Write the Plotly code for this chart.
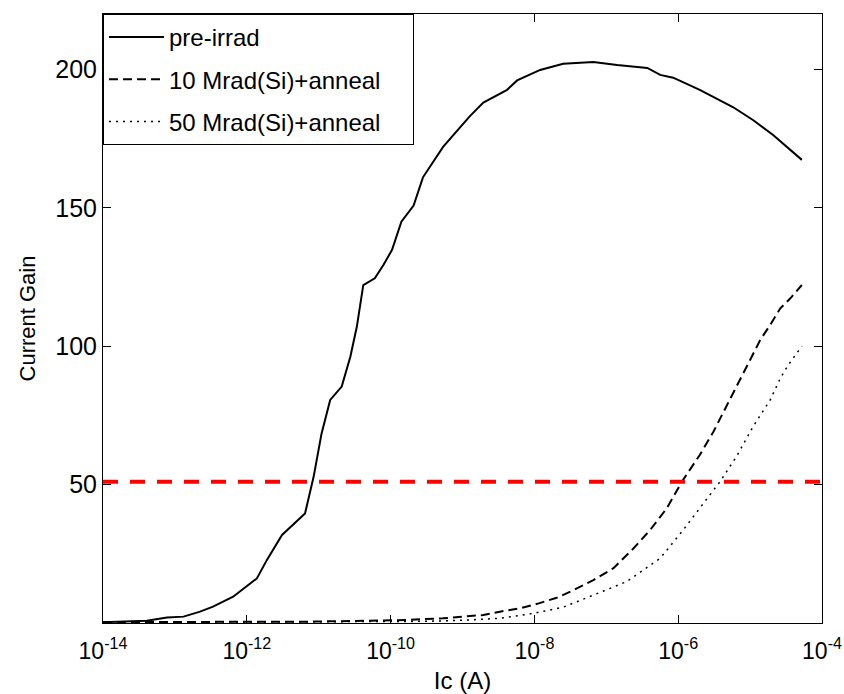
import plotly.graph_objects as go

# ---- data ----
pre_exp = [-14.0, -13.6, -13.39, -13.11, -12.88, -12.65, -12.47, -12.19, -11.86, -11.72,
           -11.51, -11.19, -11.07, -10.96, -10.84, -10.68, -10.56, -10.47, -10.38, -10.22,
           -10.10, -9.98, -9.85, -9.68, -9.55, -9.27, -8.90, -8.71, -8.38, -8.24,
           -7.92, -7.60, -7.18, -6.85, -6.43, -6.25, -6.07, -5.70, -5.24, -4.96,
           -4.68, -4.28]
pre_gain = [0.3, 0.5, 0.8, 2.0, 2.3, 4.1, 5.9, 9.5, 16.1, 22.8,
            31.8, 39.6, 52.9, 68.5, 80.6, 85.4, 96.2, 107.0, 122.1, 124.5,
            129.3, 134.8, 145.0, 150.8, 161.0, 172.0, 183.0, 188.0, 192.6, 196.0,
            199.8, 202.0, 202.7, 201.6, 200.5, 198.0, 197.0, 192.6, 186.4, 181.7,
            176.3, 167.3]

m10_exp = [-14.0, -12.0, -11.12, -10.33, -9.78, -9.27, -8.99, -8.71, -8.48, -8.20,
           -7.94, -7.69, -7.50, -7.18, -6.90, -6.62, -6.39, -6.16, -5.95, -5.70,
           -5.51, -5.35, -5.19, -5.00, -4.86, -4.72, -4.58, -4.44, -4.28]
m10_gain = [0.3, 0.3, 0.5, 0.8, 1.1, 1.7, 2.3, 2.9, 4.1, 5.3,
            7.1, 9.1, 11.3, 15.5, 19.8, 27.0, 33.6, 41.4, 51.0, 60.7,
            69.1, 77.0, 85.4, 95.0, 102.2, 107.7, 113.7, 117.3, 122.1]

m50_exp = [-14.0, -11.0, -9.5, -9.0, -8.48, -8.01, -7.60, -7.18, -6.72, -6.25,
           -5.93, -5.65, -5.42, -5.19, -4.96, -4.72, -4.58, -4.47, -4.28]
m50_gain = [0.2, 0.3, 0.6, 1.0, 1.7, 3.5, 5.7, 10.1, 14.9, 23.4,
            33.6, 43.2, 51.0, 60.1, 70.9, 80.6, 88.4, 93.2, 100.0]

threshold = 51
x_limits = [1e-14, 1e-4]
x_tick_vals = [1e-14, 1e-12, 1e-10, 1e-8, 1e-6, 1e-4]
x_tick_text = ["10<sup>-14</sup>", "10<sup>-12</sup>", "10<sup>-10</sup>",
               "10<sup>-8</sup>", "10<sup>-6</sup>", "10<sup>-4</sup>"]
y_tick_vals = [50, 100, 150, 200]

names = ["pre-irrad", "10 Mrad(Si)+anneal", "50 Mrad(Si)+anneal"]

FONT = "Liberation Sans, Arial, sans-serif"
PAD = "\u00a0" * 4  # widens the legend box like the reference

fig = go.Figure()
fig.add_trace(go.Scatter(x=[10 ** e for e in pre_exp], y=pre_gain, mode="lines",
                         name=names[0], legendgroup="a",
                         line=dict(color="black", width=2)))
fig.add_trace(go.Scatter(x=[10 ** e for e in m10_exp], y=m10_gain, mode="lines",
                         name=names[1] + PAD, legendgroup="b",
                         line=dict(color="black", width=2, dash="9px,5px")))
fig.add_trace(go.Scatter(x=[10 ** e for e in m50_exp], y=m50_gain, mode="lines",
                         name=names[2], legendgroup="c",
                         line=dict(color="black", width=1.5, dash="2px,5px")))
fig.add_trace(go.Scatter(x=x_limits, y=[threshold, threshold], mode="lines",
                         showlegend=False, hoverinfo="skip",
                         line=dict(color="#ff0000", width=4, dash="15px,12px")))

fig.update_layout(
    width=844, height=694,
    margin=dict(l=103, r=22, t=14, b=71, autoexpand=False),
    paper_bgcolor="white", plot_bgcolor="white",
    font=dict(family=FONT, size=24, color="black"),
    showlegend=True,
    legend=dict(x=0, y=1, xanchor="left", yanchor="top",
                bordercolor="black", borderwidth=1, bgcolor="white",
                font=dict(family=FONT, size=24, color="black"),
                tracegroupgap=8, itemwidth=55),
    xaxis=dict(type="log", range=[-14, -4], tickvals=x_tick_vals, ticktext=x_tick_text,
               automargin=False, ticklabeloverflow="allow", ticklabelstandoff=7,
               showline=True, linecolor="black", linewidth=1, mirror="ticks",
               ticks="inside", ticklen=8, tickcolor="black", showgrid=False, zeroline=False,
               tickfont=dict(family=FONT, size=23),
               title=dict(text="Ic (A)", font=dict(family=FONT, size=24), standoff=9)),
    yaxis=dict(range=[0, 220], tickvals=y_tick_vals, automargin=False,
               showline=True, linecolor="black", linewidth=1, mirror="ticks",
               ticks="inside", ticklen=8, tickcolor="black", showgrid=False, zeroline=False,
               tickfont=dict(family=FONT, size=25),
               title=dict(text="Current Gain", font=dict(family=FONT, size=22), standoff=13)),
)

# the page's default 8px body margin would shift the figure; remove it
fig.write_html("out.html", config={"displayModeBar": False},
               post_script="document.body.style.margin='0';")
